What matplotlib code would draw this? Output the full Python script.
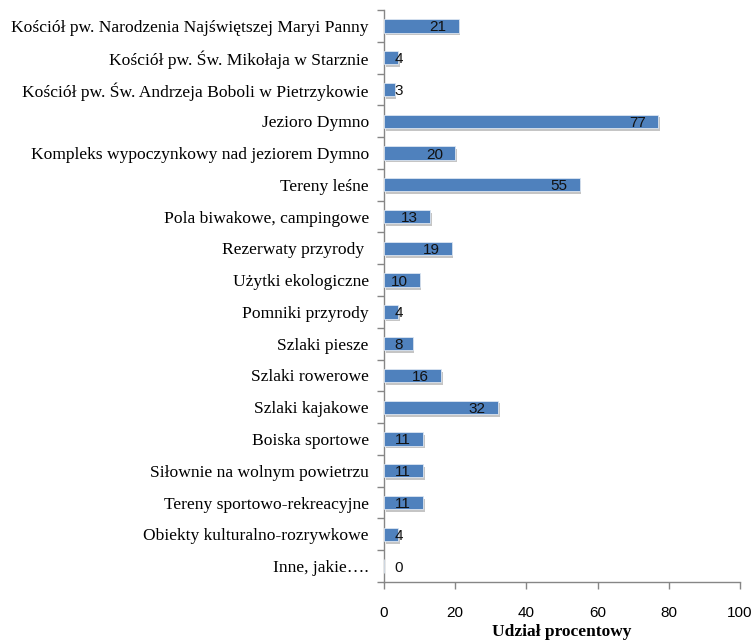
import matplotlib

matplotlib.use("Agg")
import matplotlib.pyplot as plt
import matplotlib.patheffects as pe
import numpy as np

categories = [
    "Kościół pw. Narodzenia Najświętszej Maryi Panny",
    "Kościół pw. Św. Mikołaja w Starznie",
    "Kościół pw. Św. Andrzeja Boboli w Pietrzykowie",
    "Jezioro Dymno",
    "Kompleks wypoczynkowy nad jeziorem Dymno",
    "Tereny leśne",
    "Pola biwakowe, campingowe",
    "Rezerwaty przyrody ",
    "Użytki ekologiczne",
    "Pomniki przyrody",
    "Szlaki piesze",
    "Szlaki rowerowe",
    "Szlaki kajakowe",
    "Boiska sportowe",
    "Siłownie na wolnym powietrzu",
    "Tereny sportowo-rekreacyjne",
    "Obiekty kulturalno-rozrywkowe",
    "Inne, jakie….",
]
shares = [21, 4, 3, 77, 20, 55, 13, 19, 10, 4, 8, 16, 32, 11, 11, 11, 4, 0]
xticks = [0, 20, 40, 60, 80, 100]

BAR = "#4F81BD"
AXIS = "#868686"
SERIF = "Liberation Serif"
SANS = "Liberation Sans"

fig = plt.figure(figsize=(7.53, 6.42), dpi=100)
ax = fig.add_axes([0.51, 0.0935, 0.4727, 0.8909])

y = np.arange(len(categories))
bars = ax.barh(y, shares, height=0.42, color=BAR, edgecolor="#dce6f2", linewidth=0.6,
               zorder=3)
for b in bars:
    b.set_path_effects([pe.SimplePatchShadow(offset=(1.2, -2.0), shadow_rgbFace="#8c8c8c",
                                             alpha=0.5), pe.Normal()])

# value labels sit inside the bar end; short bars push them just past it
for yi, v in zip(y, shares):
    ax.text(max(v - 3.4, 5.3), yi, f"{v}", ha="right", va="center_baseline", fontsize=11,
            family=SANS, color="#111111", zorder=4)

ax.set_xlim(0, 100)
ax.set_ylim(len(categories) - 0.5, -0.5)
ax.set_xticks(xticks)
ax.set_xticklabels([str(t) for t in xticks], family=SANS, fontsize=11)
ax.set_yticks(y)
ax.set_yticklabels(categories, family=SERIF, fontsize=12.6)
ax.set_yticks(np.arange(-0.5, len(categories)), minor=True)
ax.tick_params(axis="y", which="major", length=0, pad=11)
ax.tick_params(axis="y", which="minor", length=5, color=AXIS, width=1)
ax.tick_params(axis="x", length=5, color=AXIS, width=1, pad=12)

for s in ("top", "right"):
    ax.spines[s].set_visible(False)
for s in ("left", "bottom"):
    ax.spines[s].set_color(AXIS)
    ax.spines[s].set_linewidth(1)

ax.set_xlabel("Udział procentowy", family=SERIF, fontsize=12.5, fontweight="bold", labelpad=3)

fig.savefig("out.png", dpi=100)
